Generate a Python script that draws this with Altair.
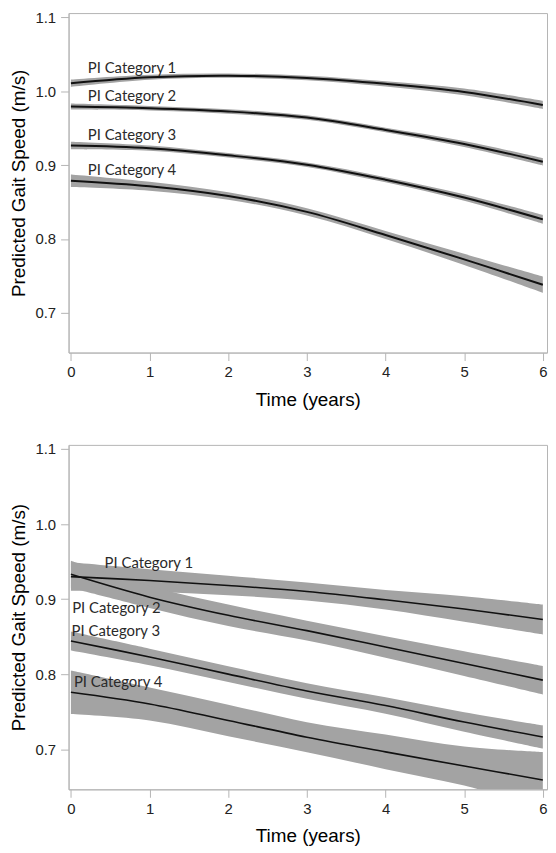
import altair as alt
import pandas as pd

# ---------------- data ----------------
years = [0, 1, 2, 3, 4, 5, 6]
categories = ["PI Category 1", "PI Category 2", "PI Category 3", "PI Category 4"]
y_ticks = [0.7, 0.8, 0.9, 1.0, 1.1]

# Top panel: predicted gait speed (m/s)
top_cat1 = [1.0107, 1.0187, 1.0209, 1.0177, 1.0098, 0.9989, 0.9813]
top_cat2 = [0.9791, 0.9769, 0.9725, 0.9642, 0.9475, 0.9286, 0.9044]
top_cat3 = [0.9264, 0.9228, 0.9132, 0.9005, 0.8802, 0.8561, 0.8266]
top_cat4 = [0.8789, 0.8714, 0.8582, 0.8367, 0.8055, 0.7725, 0.7382]
# Top panel: half-width of the confidence band
top_ci1 = [0.0050, 0.0035, 0.0030, 0.0030, 0.0035, 0.0045, 0.0055]
top_ci2 = [0.0040, 0.0030, 0.0030, 0.0030, 0.0030, 0.0040, 0.0050]
top_ci3 = [0.0050, 0.0035, 0.0030, 0.0030, 0.0035, 0.0045, 0.0060]
top_ci4 = [0.0085, 0.0060, 0.0050, 0.0050, 0.0055, 0.0075, 0.0110]

# Bottom panel: predicted gait speed (m/s)
bot_cat1 = [0.9300, 0.9247, 0.9181, 0.9102, 0.8991, 0.8868, 0.8727]
bot_cat2 = [0.9330, 0.9026, 0.8784, 0.8580, 0.8362, 0.8141, 0.7920]
bot_cat3 = [0.8441, 0.8229, 0.8000, 0.7775, 0.7581, 0.7361, 0.7162]
bot_cat4 = [0.7758, 0.7603, 0.7383, 0.7160, 0.6964, 0.6775, 0.6590]
# Bottom panel: half-width of the confidence band
bot_ci1 = [0.0190, 0.0150, 0.0130, 0.0120, 0.0130, 0.0170, 0.0200]
bot_ci2 = [0.0180, 0.0144, 0.0143, 0.0132, 0.0143, 0.0165, 0.0190]
bot_ci3 = [0.0126, 0.0110, 0.0105, 0.0104, 0.0110, 0.0130, 0.0155]
bot_ci4 = [0.0290, 0.0220, 0.0210, 0.0200, 0.0230, 0.0260, 0.0370]

# Label anchor positions (data units)
top_label_x = [0.214, 0.214, 0.214, 0.214]
top_label_y = [1.0243, 0.9866, 0.9339, 0.8868]
bot_label_x = [0.428, 0.016, 0.009, 0.038]
bot_label_y = [0.9410, 0.8815, 0.8507, 0.7823]


def build(series, cis):
    rows = []
    for cat, vals, ci in zip(categories, series, cis):
        for t, v, h in zip(years, vals, ci):
            rows.append({"cat": cat, "t": t, "y": v, "lo": v - h, "hi": v + h})
    return pd.DataFrame(rows)


top_df = build([top_cat1, top_cat2, top_cat3, top_cat4],
               [top_ci1, top_ci2, top_ci3, top_ci4])
bot_df = build([bot_cat1, bot_cat2, bot_cat3, bot_cat4],
               [bot_ci1, bot_ci2, bot_ci3, bot_ci4])
top_lab = pd.DataFrame({"cat": categories, "lx": top_label_x, "ly": top_label_y})
bot_lab = pd.DataFrame({"cat": categories, "lx": bot_label_x, "ly": bot_label_y})

W = 482
xscale = alt.Scale(domain=[-0.03, 6.053], nice=False, zero=False)
yscale = alt.Scale(domain=[0.6465, 1.1055], nice=False, zero=False)
xaxis = alt.Axis(values=years, format="d", title="Time (years)", grid=False,
                 labelPadding=4, titlePadding=11, labelFlush=False)
yaxis = alt.Axis(values=y_ticks, format=".1f", title="Predicted Gait Speed (m/s)",
                 grid=False, labelPadding=5, titlePadding=7)


def panel(df, lab, lw, h):
    band = alt.Chart(df).mark_area(
        color="#a3a3a3", opacity=1, interpolate="catmull-rom", clip=True
    ).encode(
        x=alt.X("t:Q", scale=xscale, axis=xaxis),
        y=alt.Y("lo:Q", scale=yscale, axis=yaxis),
        y2="hi:Q",
        detail="cat:N",
    )
    line = alt.Chart(df).mark_line(
        color="#111111", strokeWidth=lw, interpolate="catmull-rom", clip=True
    ).encode(
        x=alt.X("t:Q", scale=xscale, axis=xaxis),
        y=alt.Y("y:Q", scale=yscale, axis=yaxis),
        detail="cat:N",
    )
    text = alt.Chart(lab).mark_text(
        align="left", baseline="alphabetic", font="Lato", fontSize=15, color="#2a2a2a"
    ).encode(
        x=alt.X("lx:Q", scale=xscale, axis=xaxis),
        y=alt.Y("ly:Q", scale=yscale, axis=yaxis),
        text="cat:N",
    )
    return alt.layer(band, line, text).properties(width=W, height=h)


chart = alt.vconcat(
    panel(top_df, top_lab, 2.0, 342),
    panel(bot_df, bot_lab, 1.6, 347),
    spacing=31,
).properties(
    padding={"left": 0, "top": -2, "right": 0, "bottom": 0}
).configure_axis(
    labelFont="Liberation Sans",
    titleFont="Liberation Sans",
    labelFontSize=15,
    titleFontSize=19,
    titleFontWeight="normal",
    labelColor="#222222",
    titleColor="#000000",
    domainColor="#b4b4b4",
    tickColor="#b4b4b4",
    tickSize=8,
).configure_view(
    stroke="#b4b4b4", strokeWidth=1
)

chart.save("out.html", embed_options={"renderer": "svg", "actions": False})
